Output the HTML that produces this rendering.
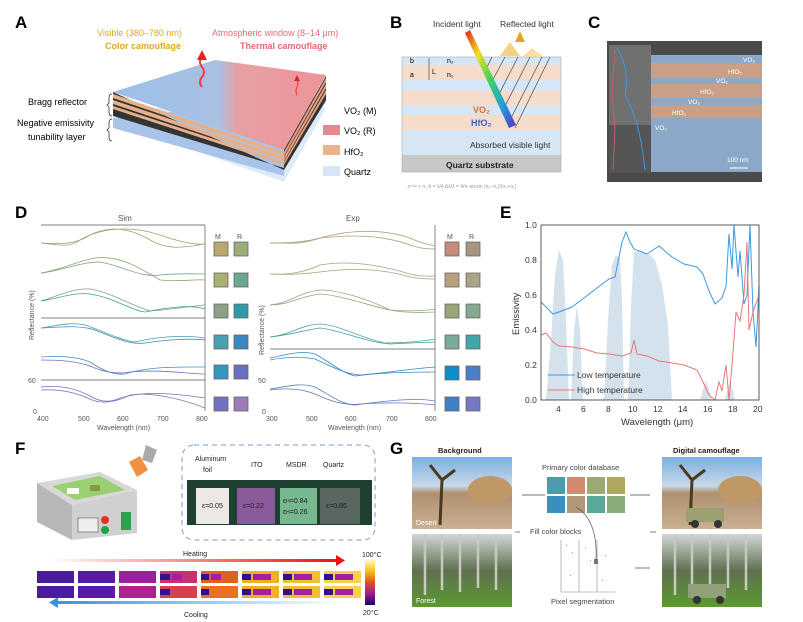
<!DOCTYPE html>
<html><head><meta charset="utf-8"><style>
html,body{margin:0;padding:0;background:#fff}
svg{display:block;font-family:"Liberation Sans",sans-serif}
</style></head><body>
<svg width="803" height="622" viewBox="0 0 803 622" xmlns="http://www.w3.org/2000/svg">
<defs>
<linearGradient id="topg" x1="0" x2="1" y1="0" y2="0"><stop offset="0" stop-color="#9cc0e8"/><stop offset="0.5" stop-color="#a9c0e2"/><stop offset="0.58" stop-color="#e8a0a4"/><stop offset="1" stop-color="#ec959a"/></linearGradient>
<linearGradient id="heat" x1="0" x2="1"><stop offset="0" stop-color="#fff"/><stop offset="1" stop-color="#f01010"/></linearGradient>
<linearGradient id="cool" x1="0" x2="1"><stop offset="0" stop-color="#3d8fe6"/><stop offset="1" stop-color="#fff"/></linearGradient>
<linearGradient id="cbar" x1="0" x2="0" y1="0" y2="1"><stop offset="0" stop-color="#fff8c0"/><stop offset="0.25" stop-color="#f8c010"/><stop offset="0.5" stop-color="#e05020"/><stop offset="0.75" stop-color="#a01890"/><stop offset="1" stop-color="#180868"/></linearGradient>
<linearGradient id="beam" x1="0" x2="1" y1="0" y2="1"><stop offset="0" stop-color="#e02020"/><stop offset="0.25" stop-color="#f0e020"/><stop offset="0.5" stop-color="#40d060"/><stop offset="0.75" stop-color="#20a0e0"/><stop offset="1" stop-color="#6030c0"/></linearGradient>
<linearGradient id="sky" x1="0" x2="0" y1="0" y2="1"><stop offset="0" stop-color="#7ab0e0"/><stop offset="0.4" stop-color="#c8d8e8"/><stop offset="0.5" stop-color="#b09070"/><stop offset="1" stop-color="#c8b090"/></linearGradient>
<linearGradient id="forest" x1="0" x2="0" y1="0" y2="1"><stop offset="0" stop-color="#d0d8d8"/><stop offset="0.5" stop-color="#607050"/><stop offset="1" stop-color="#5a9a30"/></linearGradient>
</defs>

<!-- Panel A -->
<text x="15" y="28" font-size="17" font-weight="bold">A</text>
<text x="97" y="36" font-size="9" fill="#e0a820">Visible (380–780 nm)</text>
<text x="105" y="49" font-size="9" font-weight="bold" fill="#e0a820">Color camouflage</text>
<text x="212" y="36" font-size="9" fill="#e86870">Atmospheric window (8–14 μm)</text>
<text x="240" y="49" font-size="9" font-weight="bold" fill="#e86870">Thermal camouflage</text>
<polygon points="113,122 220,90 326,108 284,182 " fill="#c8dcf0" opacity="0.6"/>
<polygon points="113,118 113,128 284,176 284,166 326,102 326,96" fill="#a8c4e8"/>
<polygon points="113,92 113,116 284,168 284,150 326,76 326,100 284,170 " fill="#333"/>
<polygon points="113,94 284,152 284,156 113,98" fill="#e8b08a"/>
<polygon points="113,100 284,157 284,161 113,104" fill="#e8b08a"/>
<polygon points="113,106 284,162 284,165 113,109" fill="#e8b08a"/>
<polygon points="284,152 326,78 326,82 284,156" fill="#e8a080"/>
<polygon points="284,157 326,84 326,88 284,161" fill="#e8a080"/>
<polygon points="284,162 326,90 326,94 284,165" fill="#e8a080"/>
<polygon points="113,92 215,60 326,75 284,150" fill="url(#topg)"/>
<path d="M202,87 q-4,-5 0,-10 q4,-5 0,-10 q-4,-5 0,-10" stroke="#f04040" stroke-width="2" fill="none"/>
<polygon points="197,60 207,60 202,50" fill="#e82020"/>
<path d="M297,95 q-2,-4 0,-8 q2,-4 0,-8" stroke="#f04040" stroke-width="1.2" fill="none"/>
<polygon points="294,81 300,81 297,75" fill="#e82020"/>
<text x="28" y="105" font-size="9">Bragg reflector</text>
<text x="17" y="126" font-size="9">Negative emissivity</text>
<text x="28" y="140" font-size="9">tunability layer</text>
<path d="M112,94 q-3,0 -3,4 v5 l-2,2 l2,2 v5 q0,4 3,4" stroke="#333" fill="none" stroke-width="0.8"/>
<path d="M112,119 q-3,0 -3,4 v5 l-2,2 l2,2 v5 q0,4 3,4" stroke="#333" fill="none" stroke-width="0.8"/>
<rect x="323" y="125" width="17" height="10" fill="#e88890"/>
<rect x="323" y="145" width="17" height="10" fill="#ebb488"/>
<rect x="323" y="166" width="17" height="10" fill="#d6e6f4"/>
<text x="344" y="114" font-size="9">VO₂ (M)</text>
<text x="344" y="134" font-size="9">VO₂ (R)</text>
<text x="344" y="155" font-size="9">HfO₂</text>
<text x="344" y="175" font-size="9">Quartz</text>

<!-- Panel B -->
<text x="390" y="28" font-size="17" font-weight="bold">B</text>
<text x="433" y="27" font-size="8.5" fill="#333">Incident light</text>
<text x="500" y="27" font-size="8.5" fill="#333">Reflected light</text>
<rect x="402" y="57" width="159" height="8" fill="#d6e6f4"/>
<rect x="402" y="65" width="159" height="15" fill="#f6dccb"/>
<rect x="402" y="80" width="159" height="11" fill="#d6e6f4"/>
<rect x="402" y="91" width="159" height="14" fill="#f6dccb"/>
<rect x="402" y="105" width="159" height="10" fill="#d6e6f4"/>
<rect x="402" y="115" width="159" height="15" fill="#f6dccb"/>
<rect x="402" y="130" width="159" height="25" fill="#d6e6f4"/>
<rect x="402" y="155" width="159" height="17" fill="#c8c8c8"/>
<rect x="402" y="57" width="159" height="115" fill="none" stroke="#aaa" stroke-width="0.6"/>
<polygon points="500,56 510,42 520,56" fill="#f0c860" opacity="0.8"/>
<polygon points="522,57 532,48 544,57" fill="#f4d890" opacity="0.8"/>
<polygon points="520,31 525,42 515,42" fill="#e0a820"/>
<g stroke="#333" stroke-width="0.6">
<line x1="490" y1="85" x2="505" y2="57"/><line x1="497" y1="98" x2="518" y2="57"/><line x1="503" y1="110" x2="530" y2="57"/><line x1="509" y1="122" x2="542" y2="57"/><line x1="515" y1="128" x2="550" y2="57"/><line x1="484" y1="73" x2="492" y2="57"/>
</g>
<polygon points="465,33 470,30 516,125 509,128" fill="url(#beam)"/>
<text x="410" y="63" font-size="7">b</text><text x="410" y="77" font-size="7">a</text>
<text x="432" y="74" font-size="7">L</text><text x="447" y="63" font-size="7">n₂</text><text x="447" y="77" font-size="7">n₁</text>
<line x1="429" y1="58" x2="429" y2="80" stroke="#333" stroke-width="0.6"/>
<text x="473" y="113" font-size="9" font-weight="bold" fill="#e07020">VO₂</text>
<text x="471" y="126" font-size="9" font-weight="bold" fill="#4060c0">HfO₂</text>
<text x="470" y="148" font-size="8.5" fill="#333">Absorbed visible light</text>
<text x="446" y="168" font-size="8.5" font-weight="bold" fill="#222">Quartz substrate</text>
<text x="405" y="188" font-size="5" fill="#999">,       n⁽ᵃ⁾ᵃ + n₂ b = λ/4      Δλ/λ = 4/π arcsin (n₂−n₁)/(n₂+n₁)</text>

<!-- Panel C -->
<text x="588" y="28" font-size="17" font-weight="bold">C</text>
<rect x="607" y="41" width="155" height="141" fill="#4a4a4a"/>
<rect x="609" y="45" width="42" height="128" fill="#707070"/>
<rect x="609" y="125" width="42" height="48" fill="#555"/>
<rect x="651" y="55" width="111" height="8" fill="#8ca8c8"/>
<rect x="651" y="63" width="111" height="15" fill="#c8a088"/>
<rect x="651" y="78" width="111" height="6" fill="#8ca8c8"/>
<rect x="651" y="84" width="111" height="14" fill="#c8a088"/>
<rect x="651" y="98" width="111" height="7" fill="#8ca8c8"/>
<rect x="651" y="105" width="111" height="13" fill="#c8a088"/>
<rect x="651" y="118" width="111" height="54" fill="#8ca8c8"/>
<path d="M615,50 L612,90 L615,130 L613,170" stroke="#e06060" fill="none" stroke-width="0.8"/>
<path d="M617,48 Q630,70 625,95 Q640,120 645,170" stroke="#3a9ae0" fill="none" stroke-width="1"/>
<g font-size="6.5" fill="#fff">
<text x="743" y="62">VO₂</text><text x="728" y="74">HfO₂</text><text x="716" y="83">VO₂</text><text x="700" y="94">HfO₂</text><text x="688" y="104">VO₂</text><text x="672" y="115">HfO₂</text><text x="655" y="130">VO₂</text>
<text x="727" y="162">100 nm</text></g>
<line x1="730" y1="168" x2="748" y2="168" stroke="#fff"/>

<!-- Panel D -->
<text x="15" y="218" font-size="17" font-weight="bold">D</text>
<text x="118" y="221" font-size="8" fill="#555">Sim</text>
<text x="346" y="221" font-size="8" fill="#555">Exp</text>
<g stroke="#555" stroke-width="0.7" fill="none">
<line x1="41" y1="225" x2="205" y2="225"/><line x1="205" y1="225" x2="205" y2="411"/>
<line x1="41" y1="318" x2="205" y2="318"/><line x1="41" y1="380" x2="205" y2="380"/>
<line x1="435" y1="225" x2="435" y2="411"/><line x1="270" y1="349" x2="435" y2="349"/>
</g>
<g fill="none" stroke-width="0.8">
<path d="M41,243 C60,245 70,248 80,240 C100,228 130,225 160,235 C180,242 195,245 205,244" stroke="#a8a070"/>
<path d="M41,243 C60,244 75,245 90,235 C110,225 130,228 150,240 C170,252 190,246 205,244" stroke="#a8a070"/>
<path d="M41,273 C60,270 75,262 95,258 C120,255 140,268 160,280 C180,282 195,279 205,280" stroke="#a0a070"/>
<path d="M41,273 C60,271 80,262 100,262 C120,265 140,278 160,275 C180,273 195,274 205,274" stroke="#70a090"/>
<path d="M41,301 C60,295 75,288 90,289 C110,292 130,305 150,311 C170,310 190,306 205,305" stroke="#80a090"/>
<path d="M41,301 C60,298 75,292 90,294 C115,298 130,310 145,312 C165,308 190,304 205,309" stroke="#40a0a0"/>
<path d="M41,328 C60,325 70,322 85,325 C100,330 120,340 135,342 C160,336 185,335 205,338" stroke="#40a0b0"/>
<path d="M41,328 C60,327 80,325 95,330 C115,338 130,345 145,343 C165,340 190,338 205,340" stroke="#3890b8"/>
<path d="M41,357 C60,356 75,356 90,362 C105,372 115,375 125,374 C150,366 180,367 205,367" stroke="#4090b8"/>
<path d="M41,360 C60,360 75,361 90,366 C105,373 120,374 130,372 C160,369 190,374 205,374" stroke="#7070c0"/>
<path d="M41,387 C60,385 75,388 90,396 C100,402 110,403 120,398 C140,392 165,392 205,398" stroke="#6878c0"/>
<path d="M41,390 C60,389 75,392 90,399 C100,404 115,403 130,395 C150,392 180,398 205,408" stroke="#a070b0"/>
<path d="M270,243 C290,243 300,245 320,238 C350,230 380,228 410,238 C420,243 430,245 435,246" stroke="#b0a080"/>
<path d="M270,243 C290,243 305,242 320,238 C350,235 380,234 410,245 C420,249 430,249 435,249" stroke="#b0a080"/>
<path d="M270,274 C290,275 305,272 320,265 C350,260 380,265 410,274 C420,277 430,276 435,276" stroke="#a8a080"/>
<path d="M270,274 C290,275 305,274 320,272 C350,268 380,268 410,277 C420,279 430,279 435,279" stroke="#a8a080"/>
<path d="M270,305 C290,303 300,292 320,290 C340,290 370,300 390,310 C410,312 430,310 435,309" stroke="#90a880"/>
<path d="M270,305 C290,305 300,296 320,294 C340,295 370,306 390,310 C410,314 430,312 435,312" stroke="#90a880"/>
<path d="M270,337 C290,335 300,325 320,324 C340,325 360,338 385,343 C410,343 430,340 435,339" stroke="#60a0a0"/>
<path d="M270,337 C290,335 305,330 320,328 C340,330 365,342 390,344 C410,343 430,342 435,342" stroke="#40a0a8"/>
<path d="M270,358 C285,355 300,350 315,354 C330,362 340,372 355,376 C390,372 420,368 435,367" stroke="#2090c0"/>
<path d="M270,360 C285,357 300,356 315,359 C330,366 345,374 360,375 C390,372 420,372 435,372" stroke="#4880c8"/>
<path d="M270,389 C285,387 300,382 315,387 C330,395 340,404 355,405 C390,400 420,398 435,401" stroke="#5080c0"/>
<path d="M270,390 C285,388 300,388 315,394 C330,401 345,406 360,404 C390,402 420,403 435,405" stroke="#7070c0"/>
</g>
<g stroke="#666" stroke-width="0.8">
<rect x="214" y="242" width="14" height="14" fill="#b9a86a"/><rect x="234" y="242" width="14" height="14" fill="#98ad78"/>
<rect x="214" y="273" width="14" height="14" fill="#a9b070"/><rect x="234" y="273" width="14" height="14" fill="#6aa88f"/>
<rect x="214" y="304" width="14" height="14" fill="#8f9e86"/><rect x="234" y="304" width="14" height="14" fill="#2d9ba6"/>
<rect x="214" y="335" width="14" height="14" fill="#4c9fae"/><rect x="234" y="335" width="14" height="14" fill="#3a88c0"/>
<rect x="214" y="365" width="14" height="14" fill="#3596c0"/><rect x="234" y="365" width="14" height="14" fill="#6a6fc0"/>
<rect x="214" y="397" width="14" height="14" fill="#6f72c0"/><rect x="234" y="397" width="14" height="14" fill="#9c7bb9"/>
<rect x="445" y="242" width="14" height="14" fill="#c88a7a"/><rect x="466" y="242" width="14" height="14" fill="#a89482"/>
<rect x="445" y="273" width="14" height="14" fill="#b5a07a"/><rect x="466" y="273" width="14" height="14" fill="#a9a488"/>
<rect x="445" y="304" width="14" height="14" fill="#9aa67a"/><rect x="466" y="304" width="14" height="14" fill="#86a890"/>
<rect x="445" y="335" width="14" height="14" fill="#7aaa98"/><rect x="466" y="335" width="14" height="14" fill="#41a6a8"/>
<rect x="445" y="366" width="14" height="14" fill="#0e8fc9"/><rect x="466" y="366" width="14" height="14" fill="#4a7ec8"/>
<rect x="445" y="397" width="14" height="14" fill="#3e7fc8"/><rect x="466" y="397" width="14" height="14" fill="#7378c0"/>
</g>
<g font-size="7" fill="#555">
<text x="215" y="239">M</text><text x="237" y="239">R</text><text x="447" y="239">M</text><text x="469" y="239">R</text>
<text x="28" y="383">60</text><text x="33" y="414">0</text><text x="258" y="383">50</text><text x="262" y="414">0</text>
<text x="37" y="421">400</text><text x="78" y="421">500</text><text x="117" y="421">600</text><text x="157" y="421">700</text><text x="196" y="421">800</text>
<text x="266" y="421">300</text><text x="306" y="421">500</text><text x="345" y="421">600</text><text x="386" y="421">700</text><text x="425" y="421">800</text>
<text x="97" y="430">Wavelength (nm)</text><text x="328" y="430">Wavelength (nm)</text>
<text transform="translate(34,340) rotate(-90)">Reflectance (%)</text>
<text transform="translate(264,355) rotate(-90)">Reflectance (%)</text>
</g>

<!-- Panel E -->
<text x="500" y="218" font-size="17" font-weight="bold">E</text>
<g fill="#d4e2ee">
<path d="M546,400 L551,340 L555,275 L559,250 L563,260 L566,320 L569,400Z"/>
<path d="M571,400 L574,330 L577,305 L580,330 L583,400Z"/>
<path d="M604,400 L608,320 L612,265 L616,255 L620,258 L622,300 L624,400Z"/>
<path d="M628,400 L631,305 L634,252 L640,250 L650,255 L655,260 L662,285 L668,325 L672,400Z"/>
<path d="M700,400 L706,380 L712,400Z"/><path d="M725,400 L730,380 L735,400Z"/>
</g>
<g fill="none" stroke-width="1">
<path stroke="#3a9ae0" d="M541,302 L546,307 L553,314 L559,312 L572,307 L584,298 L597,288 L609,279 L615,277 L622,242 L626,232 L630,242 L634,249 L647,254 L659,246 L672,257 L684,264 L697,267 L703,274 L709,291 L715,304 L722,298 L726,286 L729,234 L732,269 L734,225 L738,277 L740,251 L744,304 L747,295 L750,225 L753,312 L756,347 L759,286"/>
<path stroke="#e87878" d="M541,335 L546,333 L553,342 L559,346 L572,347 L584,349 L597,353 L609,354 L622,356 L631,353 L634,340 L637,354 L647,356 L659,361 L672,363 L684,365 L697,370 L703,382 L709,395 L715,400 L719,382 L722,391 L726,365 L729,400 L732,365 L736,312 L740,321 L744,295 L747,242 L749,330 L753,312 L759,295"/>
</g>
<g stroke="#333" stroke-width="0.8" fill="none"><rect x="541" y="225" width="218" height="175"/></g>
<g font-size="8.5" fill="#333">
<text x="525" y="228">1.0</text><text x="525" y="263">0.8</text><text x="525" y="298">0.6</text><text x="525" y="333">0.4</text><text x="525" y="368">0.2</text><text x="525" y="403">0.0</text>
<text x="556" y="412">4</text><text x="581" y="412">6</text><text x="606" y="412">8</text><text x="628" y="412">10</text><text x="653" y="412">12</text><text x="678" y="412">14</text><text x="703" y="412">16</text><text x="728" y="412">18</text><text x="753" y="412">20</text>
<text x="621" y="425" font-size="9.5">Wavelength (μm)</text>
<text transform="translate(519,335) rotate(-90)" font-size="9.5">Emissivity</text>
<text x="577" y="378">Low temperature</text><text x="577" y="393">High temperature</text>
</g>
<line x1="548" y1="375" x2="575" y2="375" stroke="#3a9ae0"/>
<line x1="548" y1="390" x2="575" y2="390" stroke="#e87878"/>

<!-- Panel F -->
<text x="15" y="454" font-size="17" font-weight="bold">F</text>
<polygon points="37,483 100,472 137,490 72,505" fill="#d8d8d8"/>
<polygon points="52,486 100,476 125,490 75,500" fill="#9ad070"/>
<rect x="67" y="488" width="12" height="6" fill="#fff"/><rect x="90" y="485" width="10" height="6" fill="#8a9a40"/>
<polygon points="37,483 72,505 72,540 37,522" fill="#b8b8b8"/>
<polygon points="72,505 137,490 137,533 72,540" fill="#d0d0d0"/>
<rect x="78" y="518" width="20" height="14" fill="#eee" stroke="#555" stroke-width="0.6"/>
<circle cx="105" cy="520" r="4" fill="#e83020"/><circle cx="105" cy="530" r="4" fill="#20a040"/>
<rect x="121" y="512" width="10" height="18" fill="#30a050"/>
<polygon points="146,445 157,450 152,463 142,460" fill="#aaa"/>
<polygon points="129,462 140,456 148,470 137,477" fill="#f09040"/>
<rect x="182" y="445" width="193" height="95" rx="12" fill="none" stroke="#7a9acc" stroke-dasharray="5,4"/>
<rect x="187" y="480" width="185" height="45" fill="#1e4030"/>
<rect x="196" y="488" width="33" height="36" fill="#ece8e4"/>
<rect x="237" y="488" width="38" height="36" fill="#8a5a9a"/>
<rect x="280" y="488" width="37" height="36" fill="#78b890"/>
<rect x="320" y="488" width="40" height="36" fill="#586860"/>
<g font-size="7" fill="#222">
<text x="195" y="461">Aluminum</text><text x="203" y="472">foil</text><text x="251" y="467">ITO</text><text x="286" y="467">MSDR</text><text x="323" y="467">Quartz</text>
<text x="202" y="508">ε=0.05</text><text x="243" y="508">ε=0.22</text><text x="283" y="503">ε<tspan font-size="5">H</tspan>=0.84</text><text x="283" y="514">ε<tspan font-size="5">H</tspan>=0.26</text><text x="326" y="508">ε=0.86</text>
<text x="183" y="556">Heating</text><text x="184" y="617">Cooling</text>
<text x="362" y="557">100°C</text><text x="363" y="615">20°C</text>
</g>
<rect x="48" y="559" width="290" height="3" fill="url(#heat)"/><polygon points="336,555 345,560.5 336,566" fill="#f01010"/>
<rect x="58" y="601" width="286" height="3" fill="url(#cool)"/><polygon points="58,597 49,602.5 58,608" fill="#3d8fe6"/>
<rect x="365" y="560" width="10" height="45" fill="url(#cbar)"/>
<g>
<rect x="37" y="571" width="37" height="12" fill="#4a1aa0"/><rect x="78" y="571" width="37" height="12" fill="#5a1aa8"/><rect x="119" y="571" width="37" height="12" fill="#9a20a0"/><rect x="160" y="571" width="37" height="12" fill="#c83070"/><rect x="201" y="571" width="37" height="12" fill="#e06020"/><rect x="242" y="571" width="37" height="12" fill="#f0b020"/><rect x="283" y="571" width="37" height="12" fill="#f0c030"/><rect x="324" y="571" width="37" height="12" fill="#f8d050"/>
<rect x="37" y="586" width="37" height="12" fill="#4a1aa0"/><rect x="78" y="586" width="37" height="12" fill="#5a1aa8"/><rect x="119" y="586" width="37" height="12" fill="#b02090"/><rect x="160" y="586" width="37" height="12" fill="#d84050"/><rect x="201" y="586" width="37" height="12" fill="#e87020"/><rect x="242" y="586" width="37" height="12" fill="#f0b020"/><rect x="283" y="586" width="37" height="12" fill="#f0c030"/><rect x="324" y="586" width="37" height="12" fill="#f8d050"/>
<g fill="#301090"><rect x="160" y="574" width="10" height="6"/><rect x="201" y="574" width="8" height="6"/><rect x="242" y="574" width="9" height="6"/><rect x="283" y="574" width="9" height="6"/><rect x="324" y="574" width="9" height="6"/><rect x="160" y="589" width="10" height="6"/><rect x="201" y="589" width="8" height="6"/><rect x="242" y="589" width="9" height="6"/><rect x="283" y="589" width="9" height="6"/><rect x="324" y="589" width="9" height="6"/></g>
<g fill="#a020a0"><rect x="172" y="574" width="10" height="6"/><rect x="211" y="574" width="10" height="6"/><rect x="253" y="574" width="18" height="6"/><rect x="294" y="574" width="18" height="6"/><rect x="335" y="574" width="18" height="6"/><rect x="253" y="589" width="18" height="6"/><rect x="294" y="589" width="18" height="6"/><rect x="335" y="589" width="18" height="6"/></g>
</g>

<!-- Panel G -->
<text x="390" y="454" font-size="17" font-weight="bold">G</text>
<text x="438" y="453" font-size="7.5" font-weight="bold" fill="#222">Background</text>
<text x="673" y="453" font-size="7.5" font-weight="bold" fill="#222">Digital camouflage</text>
<rect x="412" y="457" width="100" height="72" fill="url(#sky)"/>
<ellipse cx="490" cy="490" rx="22" ry="14" fill="#c09868"/>
<path d="M440,525 L442,480 L430,465 M442,480 L455,470" stroke="#4a3a20" stroke-width="3" fill="none"/>
<rect x="412" y="534" width="100" height="73" fill="url(#forest)"/>
<g stroke="#c8c8c0" stroke-width="2.5"><line x1="425" y1="534" x2="425" y2="595"/><line x1="442" y1="534" x2="442" y2="590"/><line x1="460" y1="534" x2="460" y2="592"/><line x1="478" y1="534" x2="478" y2="588"/><line x1="496" y1="534" x2="496" y2="590"/></g>
<rect x="662" y="457" width="100" height="72" fill="url(#sky)"/>
<ellipse cx="740" cy="490" rx="22" ry="14" fill="#c09868"/>
<path d="M690,525 L692,480 L680,465 M692,480 L705,470" stroke="#4a3a20" stroke-width="3" fill="none"/>
<rect x="686" y="508" width="38" height="14" fill="#9aa070"/><circle cx="695" cy="524" r="4" fill="#333"/><circle cx="718" cy="524" r="4" fill="#333"/>
<rect x="662" y="534" width="100" height="73" fill="url(#forest)"/>
<g stroke="#c8c8c0" stroke-width="2.5"><line x1="675" y1="534" x2="675" y2="595"/><line x1="692" y1="534" x2="692" y2="590"/><line x1="710" y1="534" x2="710" y2="592"/><line x1="728" y1="534" x2="728" y2="588"/><line x1="746" y1="534" x2="746" y2="590"/></g>
<rect x="688" y="584" width="38" height="14" fill="#90a078"/><circle cx="697" cy="600" r="4" fill="#333"/><circle cx="720" cy="600" r="4" fill="#333"/>
<g font-size="7" fill="#fff"><text x="416" y="525">Desert</text><text x="416" y="603">Forest</text></g>
<text x="542" y="470" font-size="7.5" fill="#444">Primary color database</text>
<g><rect x="547" y="477" width="18" height="17" fill="#4a9ab0"/><rect x="567" y="477" width="18" height="17" fill="#d08a70"/><rect x="587" y="477" width="18" height="17" fill="#9aaa70"/><rect x="607" y="477" width="18" height="17" fill="#b0a860"/>
<rect x="547" y="496" width="18" height="17" fill="#3a8ec0"/><rect x="567" y="496" width="18" height="17" fill="#b09878"/><rect x="587" y="496" width="18" height="17" fill="#5aa898"/><rect x="607" y="496" width="18" height="17" fill="#8aaa78"/></g>
<text x="530" y="534" font-size="7.5" fill="#444">Fill color blocks</text>
<text x="551" y="604" font-size="7.5" fill="#444">Pixel segmentation</text>
<g stroke="#888" stroke-width="0.6"><line x1="561" y1="540" x2="561" y2="592"/><line x1="579" y1="540" x2="579" y2="592"/><line x1="597" y1="540" x2="597" y2="592"/><line x1="561" y1="592" x2="615" y2="592"/></g>
<g fill="#999"><rect x="566" y="545" width="1" height="1"/><rect x="572" y="552" width="1" height="1"/><rect x="585" y="548" width="1" height="1"/><rect x="590" y="560" width="1" height="1"/><rect x="605" y="555" width="1" height="1"/><rect x="570" y="575" width="1" height="1"/><rect x="602" y="580" width="1" height="1"/></g>
<rect x="594" y="559" width="4" height="5" fill="#807060"/>
<path d="M576,507 Q598,520 596,560" stroke="#555" fill="none" stroke-width="0.7"/>
<g stroke="#444" stroke-width="0.7"><line x1="522" y1="495" x2="545" y2="495"/><line x1="630" y1="495" x2="650" y2="495"/><line x1="635" y1="568" x2="650" y2="568"/><line x1="515" y1="532" x2="520" y2="532"/><line x1="650" y1="532" x2="656" y2="532"/></g>
</svg>
</body></html>
